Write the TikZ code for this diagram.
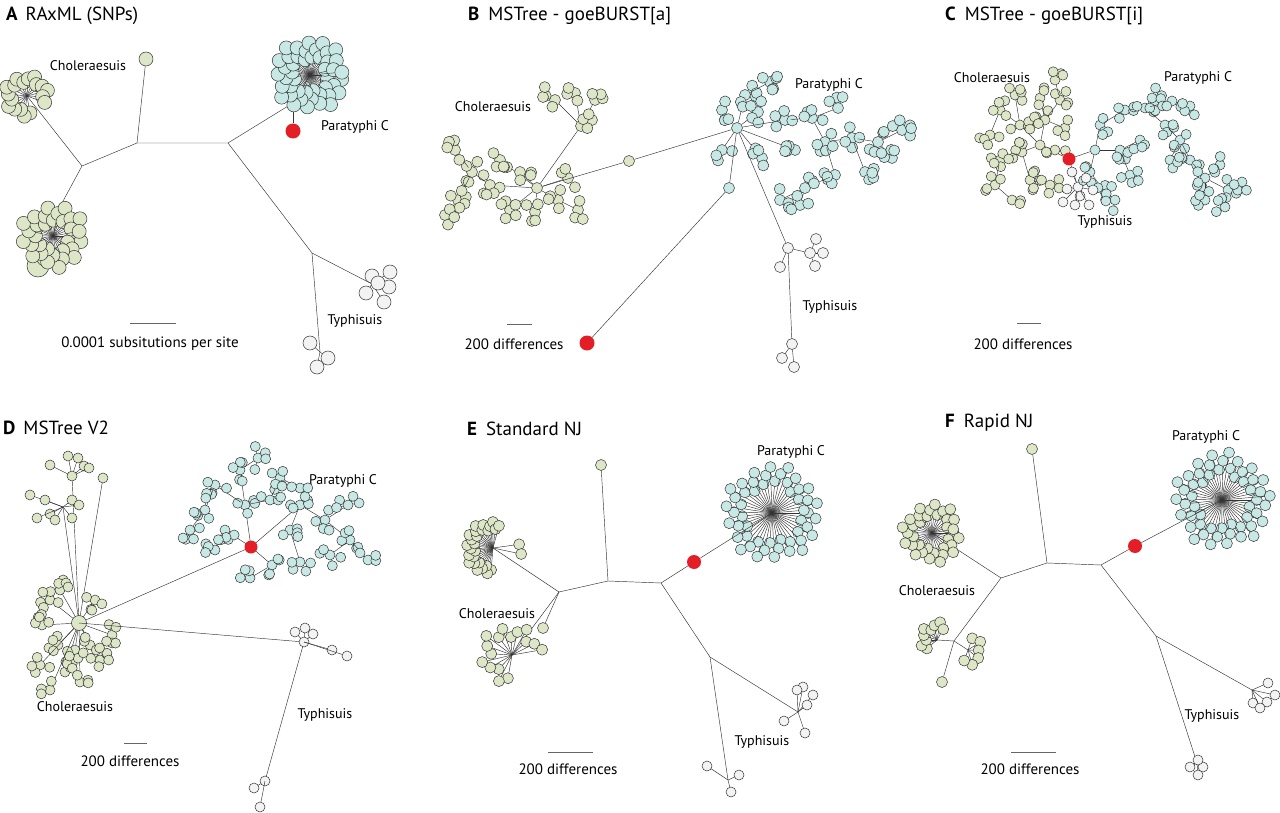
\documentclass[tikz,border=0pt]{standalone}
\usepackage{fontspec}
\setmainfont{PT Sans}

\definecolor{choGreen}{HTML}{DEE6C8}
\definecolor{parBlue}{HTML}{C8E8E5}
\definecolor{typWhite}{HTML}{F3F3F3}
\definecolor{refRed}{HTML}{E41E26}

\tikzset{
  branch/.style={draw=black!80, line width=0.45pt},
  leaf/.style={circle, draw=black!80, line width=0.5pt, inner sep=0pt, minimum size=#1},
  leaf/.default=12,
  choleaf/.style={leaf=#1, fill=choGreen}, choleaf/.default=12,
  parleaf/.style={leaf=#1, fill=parBlue}, parleaf/.default=12,
  typleaf/.style={leaf=#1, fill=typWhite}, typleaf/.default=12,
  redleaf/.style={circle, fill=refRed, inner sep=0pt, minimum size=#1}, redleaf/.default=14,
  lab/.style={inner sep=0pt, font=\fontsize{14}{16}\selectfont},
  barlab/.style={inner sep=0pt, font=\fontsize{15}{17}\selectfont},
  scalebar/.style={draw=black!60, line width=0.8pt},
  paneltitle/.style={anchor=base west, inner sep=0pt, font=\fontsize{19}{22}\selectfont}
}

% fan of leaves round a hub
\newcommand\fanclade[8]{%
  \foreach \k in {1,...,#5}{%
    \pgfmathsetmacro\ang{#3+(#4-#3)/max(#5-1,1)*(\k-1)}%
    \pgfmathsetmacro\rad{#6+#7*mod(\k*37,11)/10}%
    \draw[branch] (#2) -- ++(\ang:\rad) node[#8] (#1\k) {};
  }}

% small star of leaves hung on a parent
\newcommand\msgroup[6]{%
  \draw[branch] (#2) -- #3 node[#6] (#1) {};
  \foreach \k in {1,...,#4}{%
    \pgfmathsetmacro\ang{rnd*360}%
    \pgfmathsetmacro\rad{#5*(0.6+0.4*rnd)}%
    \draw[branch] (#1) -- ++(\ang:\rad) node[#6] (#1-\k) {};
  }}

\begin{document}
\begin{tikzpicture}[x=1pt,y=-1pt]
  \useasboundingbox (0,0) rectangle (1280,813);

  % ---------------- A : RAxML ----------------
  \node[paneltitle] (aTitle) at (6,21) {\textbf{A}\hspace{8pt}RAxML (SNPs)};
  \coordinate (aN1) at (82,166);
  \coordinate (aN2) at (137,143);
  \coordinate (aN3) at (228,143);
  \coordinate (aN4) at (312,253);
  \coordinate (aChoTop) at (27,96);
  \coordinate (aChoLow) at (62,203);
  \coordinate (aChoLowHub) at (53,236);
  \coordinate (aParBase) at (293,103);
  \coordinate (aParHub) at (310,75);
  \coordinate (aTypA) at (372,284);
  \coordinate (aTypB) at (320,352);
  \draw[branch] (aN1) -- (aN2) -- (aN3) -- (aN4);
  \draw[branch] (aN1) -- (aChoTop);
  \draw[branch] (aN1) -- (aChoLow) -- (aChoLowHub);
  \draw[branch] (aN3) -- (aParBase) -- (aParHub);
  \draw[branch] (aN4) -- (aTypA);
  \draw[branch] (aN4) -- (aTypB);
  \node[choleaf=14] (aChoSingle) at (146,59) {};
  \draw[branch] (aN2) -- (aChoSingle);
  \node[redleaf=15] (aRed) at (293,131) {};
  \draw[branch] (aParBase) -- (aRed);
  \fanclade{aCT}{aChoTop}{80}{380}{18}{14}{8}{choleaf=14}
  \node[choleaf=22] (aBigA) at (38,266) {};
  \node[choleaf=22] (aBigB) at (47,256) {};
  \fanclade{aCL}{aChoLowHub}{0}{350}{32}{14}{18}{choleaf=14}
  \fanclade{aP}{aParHub}{0}{355}{46}{16}{20}{parleaf=14}
  \foreach \p [count=\k] in {(372,276),(390,272),(389,287),(366,293),(384,302),(378,283)}
    \draw[branch] (aTypA) -- \p node[typleaf=14] (aTA\k) {};
  \foreach \p [count=\k] in {(310,343),(328,358),(317,367)}
    \draw[branch] (aTypB) -- \p node[typleaf=14] (aTB\k) {};
  \node[lab] (aChoLab) at (88,66) {Choleraesuis};
  \node[lab] (aParLab) at (355,127) {Paratyphi C};
  \node[lab] (aTypLab) at (355,321) {Typhisuis};
  \coordinate (aBarL) at (130,323);
  \coordinate (aBarR) at (176,323);
  \draw[scalebar] (aBarL) -- (aBarR);
  \node[barlab] (aBarLab) at (150,344) {0.0001 subsitutions per site};

  % ---------------- B : goeBURST[a] ----------------
  \pgfmathsetseed{11}
  \node[paneltitle] (bTitle) at (468,21) {\textbf{B}\hspace{9pt}MSTree - goeBURST[a]};
  \node[choleaf=11] (bChoHub) at (537,188) {};
  \node[choleaf=11] (bChoSub) at (581,126) {};
  \node[parleaf=11] (bParHub) at (737,128) {};
  \draw[branch] (bChoHub) -- (bChoSub);
  \foreach \sx/\sy/\n/\pa [count=\j] in {490/185/5/bChoHub,472/172/4/bC1,455/150/4/bC2,
      458/200/5/bC2,500/160/5/bChoHub,510/210/5/bChoHub,535/212/4/bChoHub,
      558/200/4/bChoHub,568/178/3/bChoHub,520/172/3/bChoHub,578/210/3/bC8,445/215/3/bC4}
    {\msgroup{bC\j}{\pa}{(\sx,\sy)}{\n}{12}{choleaf=11}}
  \foreach \sx/\sy/\n/\pa [count=\j] in {555/100/2/bChoSub,575/93/3/bChoSub,
      595/100/3/bChoSub,592/120/3/bChoSub,543/97/1/bS1}
    {\msgroup{bS\j}{\pa}{(\sx,\sy)}{\n}{11}{choleaf=11}}
  \foreach \sx/\sy/\n/\pa [count=\j] in {745/95/6/bParHub,770/82/5/bP1,722/110/4/bParHub,
      758/112/4/bParHub,785/120/4/bParHub,812/118/4/bP5,838/108/3/bP6,825/142/5/bP6,
      852/138/4/bP8,878/142/4/bP9,902/130/5/bP10,892/158/4/bP10,795/150/4/bParHub,
      762/158/4/bParHub,722/150/3/bParHub,835/175/4/bP8,805/188/3/bP16,865/172/4/bP9,
      780/200/3/bP17,800/205/3/bP17}
    {\msgroup{bP\j}{\pa}{(\sx,\sy)}{\n}{12}{parleaf=11}}
  \node[choleaf=11] (bMid) at (629,161) {};
  \node[parleaf=11] (bParLow) at (729,188) {};
  \node[redleaf=15] (bRed) at (587,343) {};
  \node[typleaf=11] (bTypA) at (788,248) {};
  \node[typleaf=11] (bTypAs) at (810,253) {};
  \node[typleaf=11] (bTypB) at (792,344) {};
  \draw[branch] (bChoHub) -- (bMid);
  \draw[branch] (bMid) -- (bParHub);
  \draw[branch] (bParHub) -- (bParLow);
  \draw[branch] (bParLow) -- (bRed);
  \draw[branch] (bParHub) -- (bTypA);
  \draw[branch] (bTypA) -- (bTypAs);
  \draw[branch] (bTypA) -- (bTypB);
  \foreach \p [count=\k] in {(780,267)}
    \draw[branch] (bTypA) -- \p node[typleaf=11] (bTA\k) {};
  \foreach \p [count=\k] in {(816,239),(823,253),(815,266)}
    \draw[branch] (bTypAs) -- \p node[typleaf=11] (bTS\k) {};
  \foreach \p [count=\k] in {(782,358),(794,367)}
    \draw[branch] (bTypB) -- \p node[typleaf=11] (bTB\k) {};
  \node[lab] (bChoLab) at (493,107) {Choleraesuis};
  \node[lab] (bParLab) at (829,85) {Paratyphi C};
  \node[lab] (bTypLab) at (830,307) {Typhisuis};
  \coordinate (bBarL) at (507,324);
  \coordinate (bBarR) at (532,324);
  \draw[scalebar] (bBarL) -- (bBarR);
  \node[barlab] (bBarLab) at (514,344) {200 differences};

  % ---------------- C : goeBURST[i] ----------------
  \pgfmathsetseed{23}
  \node[paneltitle] (cTitle) at (945,21) {\textbf{C}\hspace{9pt}MSTree - goeBURST[i]};
  \coordinate (cRedPos) at (1069,159);
  \node[choleaf=10] (cChoHub) at (1040,145) {};
  \node[parleaf=10] (cParHub) at (1095,150) {};
  \node[typleaf=10] (cTypHub) at (1078,187) {};
  \draw[branch] (cRedPos) -- (cChoHub);
  \draw[branch] (cRedPos) -- (cParHub);
  \draw[branch] (cRedPos) -- (cTypHub);
  \foreach \sx/\sy/\n/\pa [count=\j] in {1020/125/4/cChoHub,1022/152/5/cChoHub,
      1045/120/4/cChoHub,1055/150/3/cChoHub,1000/110/4/cC1,990/135/4/cC5,1000/160/5/cC2,
      995/185/4/cC7,1030/180/5/cC2,1050/185/4/cC9,1060/100/4/cC3,1055/80/3/cC11,
      1065/128/3/cC3,1015/95/4/cC1,1040/98/3/cC3,1012/200/3/cC8}
    {\msgroup{cC\j}{\pa}{(\sx,\sy)}{\n}{11}{choleaf=10}}
  \foreach \sx/\sy/\n/\pa [count=\j] in {1100/125/4/cParHub,1090/172/4/cParHub,
      1105/192/4/cP2,1120/150/4/cParHub,1125/110/4/cP1,1145/108/4/cP5,1152/98/4/cP6,
      1172/101/4/cP6,1190/106/3/cP8,1165/125/4/cP6,1180/140/4/cP10,1190/160/4/cP11,
      1205/178/4/cP12,1220/165/4/cP13,1228/190/4/cP13,1242/182/3/cP15,1205/200/4/cP13,
      1225/207/3/cP15,1130/175/4/cP4,1115/200/3/cP3,1170/160/3/cP11,1140/140/3/cP4}
    {\msgroup{cP\j}{\pa}{(\sx,\sy)}{\n}{11}{parleaf=10}}
  \foreach \p [count=\k] in {(1072,172),(1086,178),(1067,189),(1080,196),(1093,190),
      (1075,205),(1089,205),(1063,202)}
    \draw[branch] (cTypHub) -- \p node[typleaf=10] (cT\k) {};
  \node[redleaf=13] (cRed) at (cRedPos) {};
  \node[lab] (cChoLab) at (992,78) {Choleraesuis};
  \node[lab] (cParLab) at (1198,78) {Paratyphi C};
  \node[lab] (cTypLab) at (1105,222) {Typhisuis};
  \coordinate (cBarL) at (1017,323);
  \coordinate (cBarR) at (1041,323);
  \draw[scalebar] (cBarL) -- (cBarR);
  \node[barlab] (cBarLab) at (1023,344) {200 differences};

  % ---------------- D : MSTree V2 ----------------
  \pgfmathsetseed{37}
  \node[paneltitle] (dTitle) at (3,434) {\textbf{D}\hspace{8pt}MSTree V2};
  \coordinate (dChoHub) at (79,623);
  \coordinate (dRedPos) at (251,547);
  \coordinate (dUpA) at (72,476);
  \coordinate (dUpB) at (63,507);
  \draw[branch] (dChoHub) -- (dRedPos);
  \draw[branch] (dChoHub) -- (dUpA);
  \draw[branch] (dChoHub) -- (dUpB);
  \node[choleaf=10] (dChoSingle) at (103,478) {};
  \draw[branch] (dChoHub) -- (dChoSingle);
  \foreach \p [count=\k] in {(50,465),(68,456),(78,458),(84,466),(89,468),(72,476)}
    \draw[branch] (dUpA) -- \p node[choleaf=10] (dUA\k) {};
  \foreach \p [count=\k] in {(30,495),(45,500),(50,514),(37,518),(55,520),(72,500),(79,505),(72,518)}
    \draw[branch] (dUpB) -- \p node[choleaf=10] (dUB\k) {};
  \foreach \sx/\sy/\n [count=\j] in {50/600/5,60/590/4,42/625/5,58/645/4,40/665/4,
      65/672/5,80/682/3,100/660/5,112/635/5,90/645/4,95/600/4,75/650/4,50/690/3}
    {\msgroup{dC\j}{dChoHub}{(\sx,\sy)}{\n}{11}{choleaf=10}}
  \node[choleaf=15] (dChoBig) at (dChoHub) {};
  \foreach \sx/\sy/\n/\pa [count=\j] in {245/505/4/dRedPos,240/470/5/dP1,258/458/4/dP2,
      215/485/5/dP1,205/510/5/dP4,190/530/4/dP5,225/530/4/dRedPos,270/500/4/dP1,
      280/478/5/dP8,300/505/4/dRedPos,290/530/4/dP10,325/520/4/dP10,348/505/4/dP12,
      350/540/5/dP12,368/560/3/dP14,330/555/4/dP14,300/562/4/dP11,272/565/4/dRedPos,
      250/578/3/dP18,215/550/4/dP7,300/488/3/dP9}
    {\msgroup{dP\j}{\pa}{(\sx,\sy)}{\n}{12}{parleaf=10}}
  \node[redleaf=13] (dRed) at (dRedPos) {};
  \coordinate (dTypA) at (304,642);
  \coordinate (dTypB) at (265,781);
  \draw[branch] (dChoHub) -- (dTypA);
  \draw[branch] (dTypA) -- (dTypB);
  \foreach \p [count=\k] in {(295,632),(305,628),(313,634),(304,642),(332,650),(347,656)}
    \draw[branch] (dTypA) -- \p node[typleaf=10] (dTA\k) {};
  \foreach \p [count=\k] in {(254,788),(265,781),(260,807)}
    \draw[branch] (dTypB) -- \p node[typleaf=10] (dTB\k) {};
  \node[lab] (dChoLab) at (75,707) {Choleraesuis};
  \node[lab] (dParLab) at (343,481) {Paratyphi C};
  \node[lab] (dTypLab) at (325,715) {Typhisuis};
  \coordinate (dBarL) at (124,743);
  \coordinate (dBarR) at (147,743);
  \draw[scalebar] (dBarL) -- (dBarR);
  \node[barlab] (dBarLab) at (130,761) {200 differences};

  % ---------------- E : Standard NJ ----------------
  \node[paneltitle] (eTitle) at (467,435) {\textbf{E}\hspace{9pt}Standard NJ};
  \coordinate (eN1) at (559,592);
  \coordinate (eN2) at (608,581);
  \coordinate (eN3) at (661,583);
  \coordinate (eN4) at (710,657);
  \coordinate (eChoA) at (493,548);
  \coordinate (eChoB) at (512,655);
  \coordinate (eParHub) at (772,513);
  \coordinate (eTypA) at (798,712);
  \coordinate (eTypB) at (728,780);
  \draw[branch] (eN1) -- (eN2) -- (eN3) -- (eN4);
  \draw[branch] (eN1) -- (eChoA);
  \draw[branch] (eN1) -- (eChoB);
  \draw[branch] (eN4) -- (eTypA);
  \draw[branch] (eN4) -- (eTypB);
  \node[choleaf=11] (eChoSingle) at (601,465) {};
  \draw[branch] (eN2) -- (eChoSingle);
  \node[choleaf=11] (eChoLeaf) at (543,628) {};
  \draw[branch] (eN1) -- (eChoLeaf);
  \fanclade{eCA}{eChoA}{95}{285}{26}{18}{10}{choleaf=11}
  \fanclade{eCR}{eChoA}{-8}{12}{2}{24}{6}{choleaf=11}
  \fanclade{eCB}{eChoB}{100}{350}{16}{18}{14}{choleaf=11}
  \fanclade{eP}{eParHub}{0}{355}{50}{28}{20}{parleaf=11}
  \node[redleaf=14] (eRed) at (694,562) {};
  \draw[branch] (eN3) -- (eRed);
  \draw[branch] (eRed) -- (eParHub);
  \foreach \p [count=\k] in {(803,687),(813,695),(807,705),(784,721),(805,733),(797,690)}
    \draw[branch] (eTypA) -- \p node[typleaf=10] (eTA\k) {};
  \foreach \p [count=\k] in {(707,766),(739,775),(731,792)}
    \draw[branch] (eTypB) -- \p node[typleaf=10] (eTB\k) {};
  \node[lab] (eChoLab) at (497,614) {Choleraesuis};
  \node[lab] (eParLab) at (791,452) {Paratyphi C};
  \node[lab] (eTypLab) at (762,742) {Typhisuis};
  \coordinate (eBarL) at (548,752);
  \coordinate (eBarR) at (593,752);
  \draw[scalebar] (eBarL) -- (eBarR);
  \node[barlab] (eBarLab) at (568,769) {200 differences};

  % ---------------- F : Rapid NJ ----------------
  \node[paneltitle] (fTitle) at (945,427) {\textbf{F}\hspace{9pt}Rapid NJ};
  \coordinate (fN1) at (1001,578);
  \coordinate (fN2) at (1047,563);
  \coordinate (fN3) at (1101,565);
  \coordinate (fN4) at (1156,636);
  \coordinate (fChoA) at (932,533);
  \coordinate (fChoB) at (954,641);
  \coordinate (fChoBl) at (937,640);
  \coordinate (fChoBr) at (968,650);
  \coordinate (fParHub) at (1222,500);
  \coordinate (fTypA) at (1252,690);
  \coordinate (fTypB) at (1197,763);
  \draw[branch] (fN1) -- (fN2) -- (fN3) -- (fN4);
  \draw[branch] (fN1) -- (fChoA);
  \draw[branch] (fN1) -- (fChoB);
  \draw[branch] (fChoB) -- (fChoBl);
  \draw[branch] (fChoB) -- (fChoBr);
  \draw[branch] (fN4) -- (fTypA);
  \draw[branch] (fN4) -- (fTypB);
  \node[choleaf=11] (fChoSingle) at (1032,449) {};
  \draw[branch] (fN2) -- (fChoSingle);
  \node[choleaf=11] (fChoLeaf) at (942,682) {};
  \draw[branch] (fChoB) -- (fChoLeaf);
  \fanclade{fCA}{fChoA}{0}{350}{34}{16}{14}{choleaf=11}
  \fanclade{fCL}{fChoBl}{140}{300}{9}{10}{8}{choleaf=11}
  \fanclade{fCR}{fChoBr}{-70}{110}{6}{10}{6}{choleaf=11}
  \fanclade{fP}{fParHub}{0}{355}{52}{26}{22}{parleaf=11}
  \node[redleaf=14] (fRed) at (1135,546) {};
  \draw[branch] (fN3) -- (fRed);
  \draw[branch] (fRed) -- (fParHub);
  \foreach \p [count=\k] in {(1268,683),(1275,695),(1267,702),(1253,703),(1260,708)}
    \draw[branch] (fTypA) -- \p node[typleaf=10] (fTA\k) {};
  \foreach \p [count=\k] in {(1190,767),(1203,767),(1198,775),(1198,760)}
    \draw[branch] (fTypB) -- \p node[typleaf=10] (fTB\k) {};
  \node[lab] (fChoLab) at (937,591) {Choleraesuis};
  \node[lab] (fParLab) at (1206,437) {Paratyphi C};
  \node[lab] (fTypLab) at (1212,716) {Typhisuis};
  \coordinate (fBarL) at (1011,752);
  \coordinate (fBarR) at (1056,752);
  \draw[scalebar] (fBarL) -- (fBarR);
  \node[barlab] (fBarLab) at (1030,769) {200 differences};
\end{tikzpicture}
\end{document}
